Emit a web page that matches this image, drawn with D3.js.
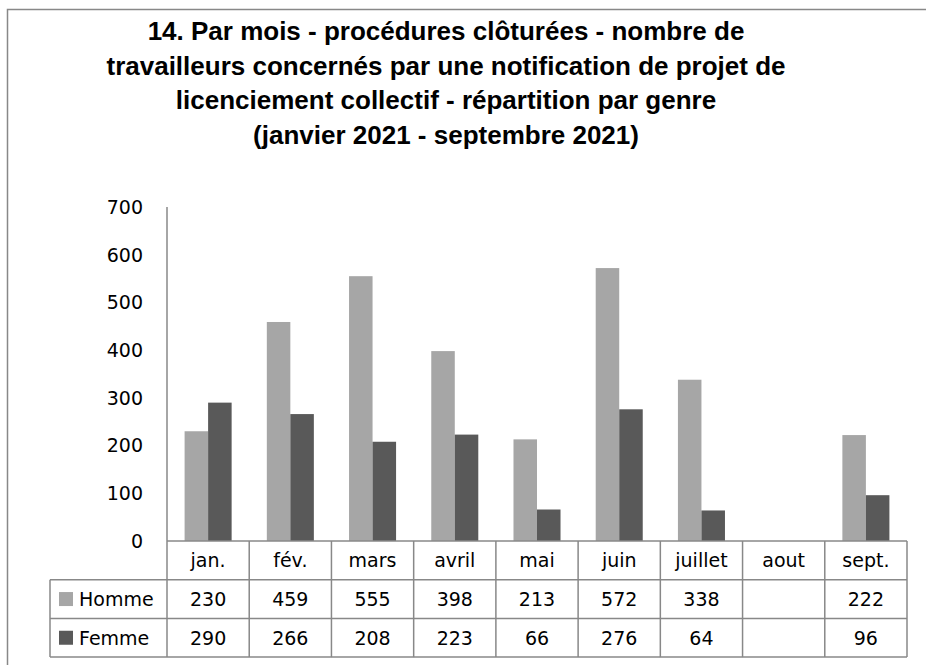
<!DOCTYPE html>
<html>
<head>
<meta charset="utf-8">
<script src="https://cdn.jsdelivr.net/npm/d3@7"></script>
<style>
  body { margin: 0; background: #fff; }
  svg text { font-family: "DejaVu Sans", sans-serif; fill: #000; }
</style>
</head>
<body>
<script>
var months = ["jan.", "fév.", "mars", "avril", "mai", "juin", "juillet", "aout", "sept."];
var homme = [230, 459, 555, 398, 213, 572, 338, null, 222];
var femme = [290, 266, 208, 223, 66, 276, 64, null, 96];
var seriesNames = ["Homme", "Femme"];
var seriesColors = ["#a6a6a6", "#595959"];
var titleLines = [
  "14. Par mois - procédures clôturées - nombre de",
  "travailleurs concernés par une notification de projet de",
  "licenciement collectif - répartition par genre",
  "(janvier 2021 - septembre 2021)"
];
var yTicks = [0, 100, 200, 300, 400, 500, 600, 700];

var W = 926, H = 665;
var plotLeft = 167, plotRight = 907, plotTop = 207, plotBottom = 541;
var rowH = 38.7;
var legendLeft = 50;
var lineColor = "#888888";

var svg = d3.select("body").append("svg")
    .attr("width", W)
    .attr("height", H);

// outer frame
svg.append("path")
    .attr("d", "M7.5," + H + "V9.5H" + W)
    .attr("fill", "none")
    .attr("stroke", lineColor)
    .attr("stroke-width", 1.5);

// title
svg.append("g").selectAll("text")
    .data(titleLines)
    .enter().append("text")
    .attr("x", 446)
    .attr("y", function(d, i) { return 40 + i * 34.7; })
    .attr("text-anchor", "middle")
    .style("font-family", "'Liberation Sans', sans-serif")
    .style("font-weight", "bold")
    .style("font-size", "26px")
    .text(function(d) { return d; });

var x = d3.scaleBand()
    .domain(months)
    .range([plotLeft, plotRight])
    .padding(0);

var y = d3.scaleLinear()
    .domain([0, 700])
    .range([plotBottom, plotTop]);

var barW = x.bandwidth() * 0.286;

// y tick labels
svg.append("g").selectAll("text")
    .data(yTicks)
    .enter().append("text")
    .attr("x", 143)
    .attr("y", function(d) { return y(d); })
    .attr("dy", "0.36em")
    .attr("text-anchor", "end")
    .style("font-size", "19px")
    .text(function(d) { return d; });

// bars
var series = [homme, femme];
series.forEach(function(vals, s) {
  svg.append("g").selectAll("rect")
      .data(months.map(function(m, i) { return {m: m, v: vals[i]}; }).filter(function(d) { return d.v != null; }))
      .enter().append("rect")
      .attr("x", function(d) { return x(d.m) + x.bandwidth() / 2 - barW + s * barW; })
      .attr("y", function(d) { return y(d.v); })
      .attr("width", barW)
      .attr("height", function(d) { return y(0) - y(d.v); })
      .attr("fill", seriesColors[s]);
});

// y axis line
svg.append("line")
    .attr("x1", plotLeft).attr("x2", plotLeft)
    .attr("y1", plotTop).attr("y2", plotBottom)
    .attr("stroke", lineColor)
    .attr("stroke-width", 1.5);

// data table
var table = svg.append("g").attr("class", "table");
var tBottom = plotBottom + rowH * 3;

// horizontal lines
table.append("line")
    .attr("x1", plotLeft).attr("x2", plotRight)
    .attr("y1", plotBottom).attr("y2", plotBottom);
[1, 2, 3].forEach(function(r) {
  table.append("line")
      .attr("x1", legendLeft).attr("x2", plotRight)
      .attr("y1", plotBottom + rowH * r).attr("y2", plotBottom + rowH * r);
});
// vertical lines
table.append("line")
    .attr("x1", legendLeft).attr("x2", legendLeft)
    .attr("y1", plotBottom + rowH).attr("y2", tBottom);
months.forEach(function(m) {
  table.append("line")
      .attr("x1", x(m)).attr("x2", x(m))
      .attr("y1", plotBottom).attr("y2", tBottom);
});
table.append("line")
    .attr("x1", plotRight).attr("x2", plotRight)
    .attr("y1", plotBottom).attr("y2", tBottom);
table.selectAll("line")
    .attr("stroke", lineColor)
    .attr("stroke-width", 1.5);

// category labels
table.selectAll("text.cat")
    .data(months)
    .enter().append("text")
    .attr("class", "cat")
    .attr("x", function(d) { return x(d) + x.bandwidth() / 2; })
    .attr("y", plotBottom + rowH / 2)
    .attr("dy", "0.36em")
    .attr("text-anchor", "middle")
    .style("font-size", "19px")
    .text(function(d) { return d; });

// values + legend
series.forEach(function(vals, s) {
  var cy = plotBottom + rowH * (s + 1) + rowH / 2;
  table.append("rect")
      .attr("x", 59).attr("y", cy - 7)
      .attr("width", 14).attr("height", 14)
      .attr("fill", seriesColors[s]);
  table.append("text")
      .attr("x", 79).attr("y", cy)
      .attr("dy", "0.36em")
      .style("font-size", "19px")
      .text(seriesNames[s]);
  table.selectAll("text.v" + s)
      .data(months.map(function(m, i) { return {m: m, v: vals[i]}; }).filter(function(d) { return d.v != null; }))
      .enter().append("text")
      .attr("class", "v" + s)
      .attr("x", function(d) { return x(d.m) + x.bandwidth() / 2; })
      .attr("y", cy)
      .attr("dy", "0.36em")
      .attr("text-anchor", "middle")
      .style("font-size", "19px")
      .text(function(d) { return d.v; });
});
</script>
</body>
</html>
